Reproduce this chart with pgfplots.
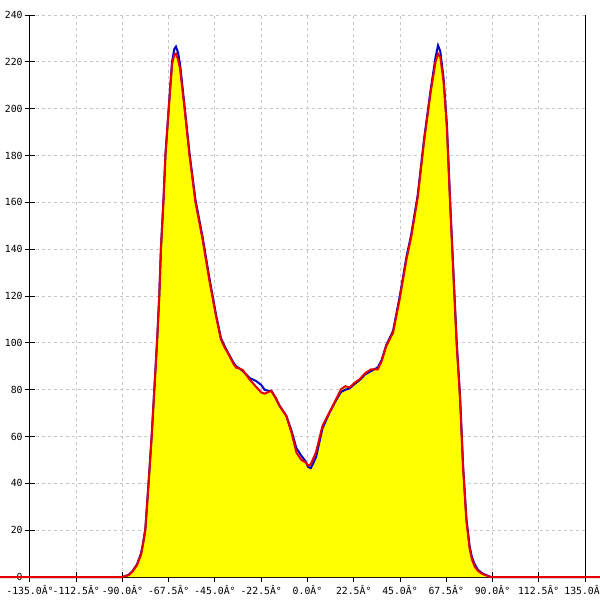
\documentclass[border=0pt]{standalone}
\usepackage{fontspec}
\setmonofont{DejaVu Sans Mono}
\usepackage{pgfplots}
\pgfplotsset{compat=1.18}
\usepackage{pgfplotstable}
\definecolor{myred}{RGB}{230,0,0}
\definecolor{myblue}{RGB}{0,0,200}
\definecolor{mygrid}{RGB}{200,200,200}
\definecolor{myyellow}{RGB}{255,255,0}
\pgfplotstableread{
x y
-160 0
-90 0
-87 0.8
-85 2.5
-83 5
-81 9.5
-80 14
-78.9 20
-77.3 40
-75.8 60
-74.5 80
-73.2 100
-72.1 120
-71.3 140
-70.1 160
-69.1 180
-67.5 200
-65.9 219
-64.8 223
-64.0 223.5
-63.0 221
-62 217
-59.8 200
-57.4 180
-54.5 160
-51 144
-47.8 127
-44.5 111.4
-42.1 101.4
-40 97.5
-38.8 95.8
-36 91
-34.7 89.4
-33 89
-31.5 88.4
-28.2 84.4
-25 81.2
-22.5 78.8
-20.9 78.3
-19 79
-17.6 79.5
-15.5 76.5
-13.5 73
-10.3 68.8
-7.8 61.7
-5.4 53.2
-3 50
-1 49
0.3 47.6
1.6 48.2
4.1 53.2
7.3 64.6
10.6 70.2
13.9 75.9
16.3 80.2
18.5 81.5
20.4 80.9
23 83
25.3 84.4
28 87
31 88.7
34.2 88.7
36 92
38.3 98.6
41.6 104.3
44.8 118.5
48.1 135.5
50.4 145
53.6 162
56.7 186
59.9 207
62.3 220
63.5 223.5
64.6 222
66.2 211.5
67.8 192
69.4 159
71 129
72.6 99
74.2 76.5
75.7 46.5
77.3 24
78.9 12
80 7.5
81.3 4.5
83 2.5
85.3 1.2
89.2 0
160 0
}\redtab
\pgfplotstableread{
x y
-135 0
-90 0
-87 0.9
-85 2.7
-83 5.3
-81 10
-80 14.5
-78.9 20.5
-77.3 40.5
-75.8 60.5
-74.5 80.5
-73.2 100.5
-72.1 120.5
-71.3 140.5
-70.1 160.5
-69.1 180.5
-67.5 200.5
-65.9 220
-64.8 225.5
-64.0 226.5
-63.0 224
-62 219
-59.8 201
-57.4 181
-54.5 161
-51 145
-47.8 128
-44.5 112
-42.1 102
-40 98
-38.8 96
-36 91.5
-34.7 90
-33 89
-31.5 88
-28.2 85
-25 83.7
-22.5 82
-20.9 80
-19 79.5
-17.6 79.5
-15.5 76.5
-13.5 73
-10.3 68.8
-7.8 62.5
-5.4 55
-3 51.8
-1 49.5
0.3 47
1.6 46.5
4.1 51
7.3 63.5
10.6 70
13.9 75.5
16.3 79
18.5 80
20.4 80.5
23 82.5
25.3 84
28 86.5
31 88
34.2 89.5
36 92.5
38.3 99
41.6 105
44.8 119.5
48.1 136.5
50.4 146
53.6 163
56.7 187
59.9 208
62.3 222
63.5 227
64.6 224.5
66.2 213
67.8 193.5
69.4 160.5
71 130
72.6 100
74.2 77.5
75.7 47.5
77.3 25
78.9 13
80 8.5
81.3 5.5
83 3
85.3 1.4
89.2 0
135 0
}\bluetab
\begin{document}
\begin{tikzpicture}
\begin{axis}[
  at={(0,0)}, anchor=south west,
  scale only axis,
  width=277.5pt, height=281pt,
  xmin=-135, xmax=135, ymin=0, ymax=240,
  enlargelimits=false,
  clip=false,
  axis x line=bottom,
  axis y line=box,
  x axis line style={-},
  y axis line style={-},
  ytick pos=left,
  xtick={-135,-112.5,-90,-67.5,-45,-22.5,0,22.5,45,67.5,90,112.5,135},
  xticklabels={-135.0Â°,-112.5Â°,-90.0Â°,-67.5Â°,-45.0Â°,-22.5Â°,0.0Â°,22.5Â°,45.0Â°,67.5Â°,90.0Â°,112.5Â°,135.0Â°},
  ytick={0,20,...,240},
  tick align=center,
  major tick length=5pt,
  tick style={black, line width=0.5pt},
  grid=major,
  major grid style={mygrid, line width=0.5pt, dash pattern=on 1.5pt off 1.5pt},
  /pgf/number format/assume math mode=true,
  ticklabel style={font=\ttfamily\fontsize{4.9}{6}\selectfont},
  yticklabel style={inner sep=1pt},
  xticklabel style={inner sep=1.5pt},
  axis line style={black, line width=0.5pt},
]
\addplot[fill=myyellow, draw=none] table[x=x,y=y] {\redtab} \closedcycle;
\addplot[myblue, line width=1pt] table[x=x,y=y] {\bluetab};
\addplot[myred, line width=1pt] table[x=x,y=y] {\redtab};
\end{axis}
\pgfresetboundingbox
\path (-15pt,-11.5pt) rectangle (285pt,288.5pt);
\end{tikzpicture}
\end{document}
